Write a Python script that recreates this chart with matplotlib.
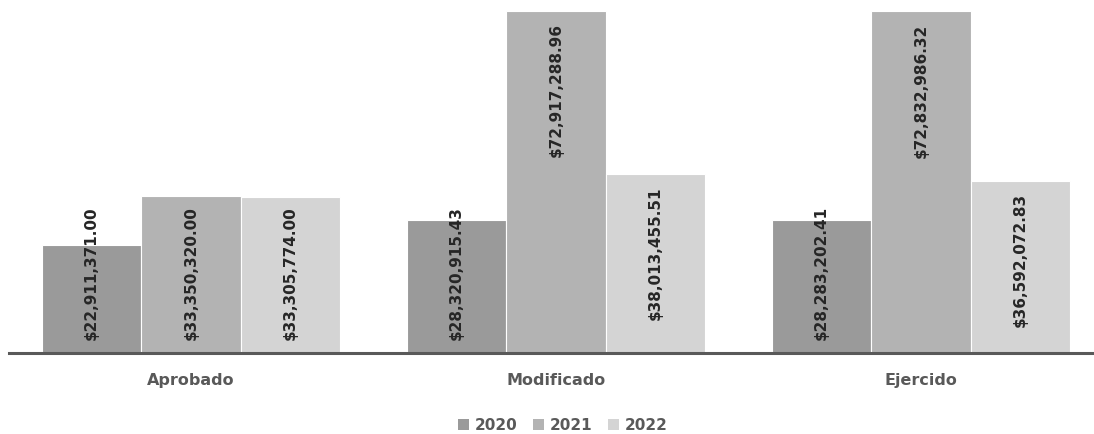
import matplotlib
matplotlib.use("Agg")
import matplotlib.pyplot as plt
from matplotlib.patches import Patch
import numpy as np

categories = ["Aprobado", "Modificado", "Ejercido"]
years = ["2020", "2021", "2022"]
values_2020 = [22911371.00, 28320915.43, 28283202.41]
values_2021 = [33350320.00, 72917288.96, 72832986.32]
values_2022 = [33305774.00, 38013455.51, 36592072.83]
series = [values_2020, values_2021, values_2022]
colors = ["#9a9a9a", "#b3b3b3", "#d4d4d4"]

W, H = 1094, 434
fig = plt.figure(figsize=(W / 100, H / 100), dpi=100)
left_px, base_px = 8.5, 352.5
ax = fig.add_axes([left_px / W, (H - base_px) / H, (W - left_px) / W, base_px / H])

bw = 99.5 / 365
x = np.arange(len(categories))
ax.set_xlim(-0.5, 2.5 - (365 * 3 - (W - left_px)) / 365)
ax.set_ylim(0, 72917288.96 * base_px / 341.5)

bars_all = []
for i, (vals, c) in enumerate(zip(series, colors)):
    bars = ax.bar(x + (i - 1) * bw, vals, width=bw, color=c, edgecolor="white",
                  linewidth=0.8, zorder=2)
    bars_all.append(bars)

for s in ax.spines.values():
    s.set_visible(False)
ax.axhline(0, color="#595959", linewidth=2.2, zorder=3, clip_on=False)
ax.set_yticks([])
ax.set_xticks([])

for xi, cat in zip(x, categories):
    ax.annotate(cat, xy=(xi, 0), xytext=(0, -28), textcoords="offset pixels",
                ha="center", va="center", fontsize=11.5, fontweight="bold",
                color="#595959", family="DejaVu Sans", annotation_clip=False)

fig.canvas.draw()
renderer = fig.canvas.get_renderer()
pad = 12
lab_kw = dict(rotation=90, fontsize=11, fontweight="bold", color="#262626",
              family="DejaVu Sans", zorder=4)
for bars, vals in zip(bars_all, series):
    for b, v in zip(bars, vals):
        label = "${:,.2f}".format(v)
        cx = b.get_x() + b.get_width() / 2
        t = ax.annotate(label, xy=(cx, 0), xytext=(0, pad), textcoords="offset pixels",
                        ha="center", va="bottom", **lab_kw)
        L = t.get_window_extent(renderer).height
        y0 = ax.transData.transform((cx, 0))[1]
        y1 = ax.transData.transform((cx, v))[1]
        h = y1 - y0
        if h - pad - L >= pad:
            t.remove()
            ax.annotate(label, xy=(cx, v), xytext=(0, -pad), textcoords="offset pixels",
                        ha="center", va="top", **lab_kw)

handles = [Patch(facecolor=c, edgecolor="none") for c in colors]
fig.legend(handles, years, loc="center", bbox_to_anchor=(563 / W, 1 - 425 / H),
           ncol=3, frameon=False, handlelength=0.7, handleheight=0.7,
           handletextpad=0.4, columnspacing=1.0,
           prop={"family": "DejaVu Sans", "weight": "bold", "size": 11})
for t in fig.legends[0].get_texts():
    t.set_color("#595959")

fig.savefig("out.png", dpi=100)
